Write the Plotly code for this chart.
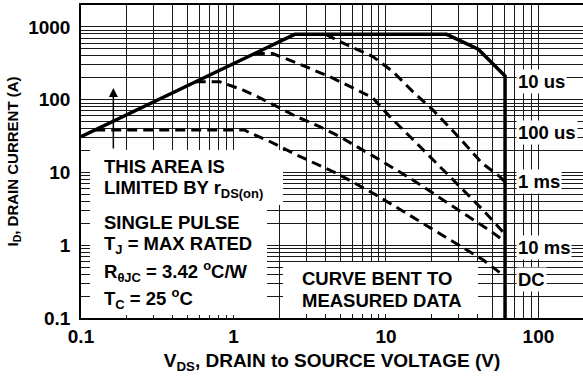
import math
import plotly.graph_objects as go

# ---------------- data ----------------
# 10 us boundary (solid): rDS(on) limit, flat current limit, power/BVDSS limit
v_10us = [0.1, 2.52, 25.0, 40.3, 60.4, 60.4]
i_10us = [31.0, 790, 790, 493, 212, 0.1]

v_100us = [4.03, 4.98, 8.2, 11.1, 15.0, 20.3, 28.3, 42.6, 56.0, 60.4]
i_100us = [790, 628, 391, 243, 129, 72.3, 34.9, 13.5, 8.7, 7.4]

v_1ms = [1.38, 1.81, 2.59, 3.31, 4.28, 6.07, 8.2, 10.6, 14.4, 43.3, 58.5, 60.4]
i_1ms = [430, 430, 320, 256, 207, 145, 106, 58.5, 31.0, 3.05, 1.52, 1.42]

v_10ms = [0.565, 0.81, 1.15, 1.49, 2.01, 2.59, 3.68, 4.98, 9.1, 15.0, 49.5, 58.5, 60.4]
i_10ms = [177, 177, 136, 106, 77, 58.5, 42.6, 31.0, 14.9, 7.9, 1.52, 1.18, 1.12]

v_dc = [0.124, 1.18, 1.28, 1.68, 2.6, 4.91, 8.85, 43.3, 58.5, 60.4]
i_dc = [38.4, 38.4, 35.0, 27.5, 17.4, 9.4, 4.75, 0.63, 0.39, 0.37]

x_decades = [0.1, 1, 10, 100]
y_decades = [0.1, 1, 10, 100, 1000]
x_ticktext = ["0.1", "1", "10", "100"]
y_ticktext = ["0.1", "1", "10", "100", "1000"]

curve_labels = ["10 us", "100 us", "1 ms", "10 ms", "DC"]
label_py = [82, 132, 181, 247, 279]   # vertical pixel positions of the labels

# ---------------- geometry helpers ----------------
W, H = 583, 379
ML, MR, MT, MB = 81, 0, 5, 61
PW, PH = W - ML - MR, H - MT - MB


def pxx(px):
    return (px - ML) / PW


def pxy(py):
    return (H - MB - py) / PH


def minor_vals(decades, top):
    vals = []
    for d in decades:
        for m in range(2, 10):
            v = round(d * m, 6)
            if v <= top:
                vals.append(v)
    return vals


FONT = "Liberation Sans"
BLK = "#000000"

fig = go.Figure()

dash_style = dict(color=BLK, width=3, dash="10px,6px")
for vx, iy in [(v_100us, i_100us), (v_1ms, i_1ms), (v_10ms, i_10ms), (v_dc, i_dc)]:
    fig.add_trace(go.Scatter(x=vx, y=iy, mode="lines", line=dash_style,
                             showlegend=False, hoverinfo="skip"))
fig.add_trace(go.Scatter(x=v_10us, y=i_10us, mode="lines",
                         line=dict(color=BLK, width=3.5), showlegend=False,
                         hoverinfo="skip"))

# white boxes behind notes
boxes = [(90, 150, 283, 205), (90, 205, 267, 315), (283, 262, 478, 314)]
shapes = []
for x0, y0, x1, y1 in boxes:
    shapes.append(dict(type="rect", xref="paper", yref="paper",
                       x0=pxx(x0), x1=pxx(x1), y0=pxy(y1), y1=pxy(y0),
                       fillcolor="white", line=dict(width=0), layer="above"))

tfont = dict(family=FONT, size=18.5, color=BLK, weight="bold")
annotations = []


def note(text, px, py, bg=None, anchor="left"):
    a = dict(text=text, xref="paper", yref="paper", x=pxx(px), y=pxy(py),
             xanchor=anchor, yanchor="middle", showarrow=False, font=tfont)
    if bg:
        a.update(bgcolor=bg, borderpad=1)
    annotations.append(a)


note("THIS AREA IS", 102, 166)
note("LIMITED BY r<sub>DS(on)</sub>", 102, 189)
note("SINGLE PULSE", 102, 223)
note("T<sub>J</sub> = MAX RATED", 102, 245)
note("R<sub>θJC</sub> = 3.42 <sup>o</sup>C/W", 102, 271)
note("T<sub>C</sub> = 25 <sup>o</sup>C", 102, 298)
note("CURVE BENT TO", 300, 278)
note("MEASURED DATA", 300, 300)
for lab, py in zip(curve_labels, label_py):
    note(lab, 516, py, bg="white")

# arrow pointing up from the text box
annotations.append(dict(x=math.log10(0.163), y=math.log10(145), xref="x", yref="y",
                        text="", showarrow=True, ax=0, ay=62, arrowhead=2,
                        arrowsize=1.2, arrowwidth=1.5, arrowcolor=BLK))

axis_common = dict(type="log", showgrid=True, gridcolor="#1a1a1a", gridwidth=1,
                   showline=True, linecolor=BLK, linewidth=1.5, ticks="",
                   zeroline=False, automargin=False,
                   tickfont=dict(family=FONT, size=19, color=BLK, weight="bold"))

fig.update_layout(
    width=W, height=H, autosize=False,
    margin=dict(l=ML, r=MR, t=MT, b=MB),
    paper_bgcolor="white", plot_bgcolor="white",
    xaxis=dict(axis_common, range=[-1, math.log10(196)], tickmode="array",
               tickvals=x_decades, ticktext=x_ticktext, mirror=True,
               minor=dict(tickmode="array", tickvals=minor_vals(x_decades + [1000], 200),
                          showgrid=True, gridcolor="#1a1a1a", gridwidth=1, ticks=""),
               title=dict(text="V<sub>DS</sub>, DRAIN to SOURCE VOLTAGE (V)",
                          font=dict(family=FONT, size=19, color=BLK, weight="bold"),
                          standoff=8)),
    yaxis=dict(axis_common, range=[-1, math.log10(2000)], tickmode="array",
               tickvals=y_decades, ticktext=y_ticktext, mirror=False,
               ticklabelstandoff=5,
               minor=dict(tickmode="array", tickvals=minor_vals(y_decades, 2000),
                          showgrid=True, gridcolor="#1a1a1a", gridwidth=1, ticks=""),
               title=dict(text="I<sub>D</sub>, DRAIN CURRENT (A)",
                          font=dict(family=FONT, size=15, color=BLK, weight="bold"),
                          standoff=6)),
    shapes=shapes, annotations=annotations,
)

fig.write_html("out.html", config={"displayModeBar": False},
               post_script="document.body.style.margin='0px';"
                           "document.body.style.padding='0px';")
